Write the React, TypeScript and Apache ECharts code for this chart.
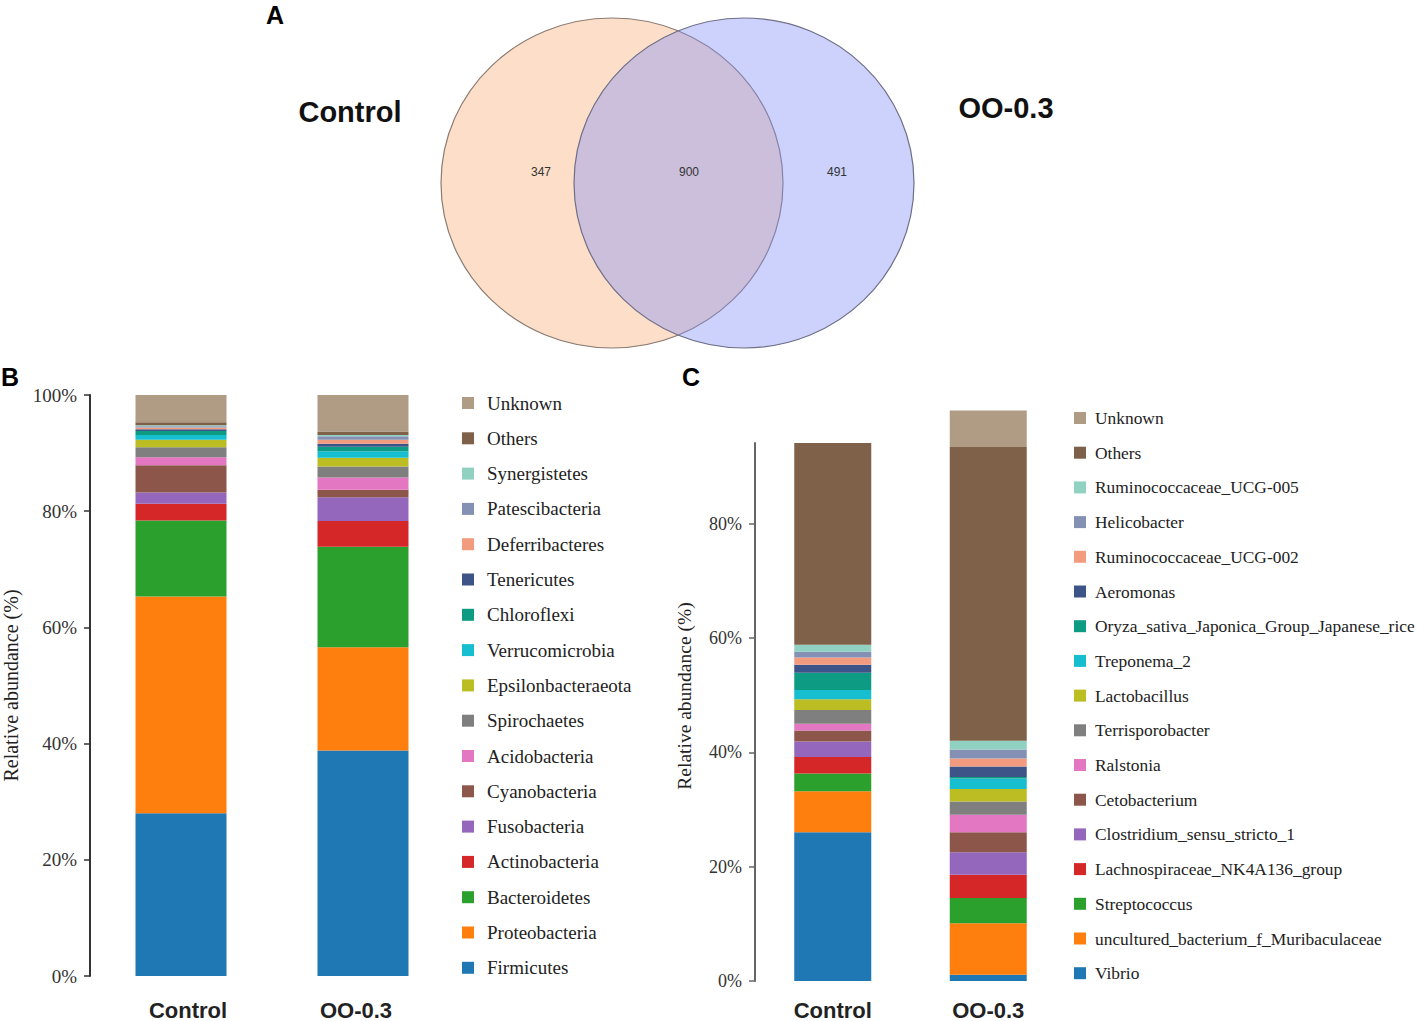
import React, { useEffect, useRef } from 'react';
import * as echarts from 'echarts';

const groups = ['Control', 'OO-0.3'];

const phylaB = ['Firmicutes', 'Proteobacteria', 'Bacteroidetes', 'Actinobacteria', 'Fusobacteria', 'Cyanobacteria', 'Acidobacteria', 'Spirochaetes', 'Epsilonbacteraeota', 'Verrucomicrobia', 'Chloroflexi', 'Tenericutes', 'Deferribacteres', 'Patescibacteria', 'Synergistetes', 'Others', 'Unknown'];
const controlB = [28.0, 37.3, 13.1, 2.9, 1.9, 4.7, 1.4, 1.7, 1.3, 0.8, 0.7, 0.3, 0.3, 0.2, 0.2, 0.5, 4.7];
const oo03B = [38.8, 17.8, 17.3, 4.4, 4.1, 1.3, 2.1, 1.9, 1.5, 1.1, 0.8, 0.5, 0.7, 0.6, 0.2, 0.6, 6.3];

const generaC = ['Vibrio', 'uncultured_bacterium_f_Muribaculaceae', 'Streptococcus', 'Lachnospiraceae_NK4A136_group', 'Clostridium_sensu_stricto_1', 'Cetobacterium', 'Ralstonia', 'Terrisporobacter', 'Lactobacillus', 'Treponema_2', 'Oryza_sativa_Japonica_Group_Japanese_rice', 'Aeromonas', 'Ruminococcaceae_UCG-002', 'Helicobacter', 'Ruminococcaceae_UCG-005', 'Others', 'Unknown'];
const controlC = [26.0, 7.2, 3.1, 2.9, 2.7, 1.9, 1.2, 2.4, 1.9, 1.6, 3.0, 1.4, 1.3, 1.0, 1.2, 35.3, 0];
const oo03C = [1.1, 9.0, 4.4, 4.1, 3.9, 3.5, 3.1, 2.3, 2.2, 1.8, 0.3, 1.8, 1.4, 1.6, 1.5, 51.4, 6.4];

const palette = ['#1f77b4', '#ff7f0e', '#2ca02c', '#d62728', '#9467bd', '#8c564b', '#e377c2', '#7f7f7f', '#bcbd22', '#17becf', '#0e9b83', '#3c5488', '#f39b7f', '#8491b4', '#91d1c2', '#7e6148', '#b09c85'];

const bTicks = [0, 20, 40, 60, 80, 100];
const cTicks = [0, 20, 40, 60, 80];

const vennSets = ['Control', 'OO-0.3'];
const vennCounts = [347, 900, 491];

const SERIF = '"Liberation Serif", "Times New Roman", serif';
const SANS = '"Liberation Sans", Arial, sans-serif';

export default function App() {
  const ref = useRef<HTMLDivElement>(null);
  useEffect(() => {
    document.body.style.margin = '0';
    const chart = echarts.init(ref.current!, null, { renderer: 'svg' });
    const cMax = Math.round(controlC.reduce((a, b) => a + b, 0) * 10) / 10;

    const seriesB = phylaB.map((name, i) => ({
      type: 'bar',
      name,
      stack: 'B',
      xAxisIndex: 0,
      yAxisIndex: 0,
      barWidth: 91,
      data: [controlB[i], oo03B[i]],
      itemStyle: { color: palette[i] },
    }));
    const seriesC = generaC.map((name, i) => ({
      type: 'bar',
      name,
      stack: 'C',
      xAxisIndex: 1,
      yAxisIndex: 1,
      barWidth: 77,
      clip: false,
      data: [controlC[i], oo03C[i]],
      itemStyle: { color: palette[i] },
    }));

    chart.setOption({
      animation: false,
      backgroundColor: '#fff',
      grid: [
        { left: 89, top: 395, width: 365, height: 583 },
        { left: 755, top: 443, width: 311, height: 540 },
      ],
      xAxis: [
        {
          gridIndex: 0, type: 'category', data: groups,
          axisLine: { show: false }, axisTick: { show: false },
          axisLabel: {
            margin: 23, fontSize: 22, fontWeight: 'bold', fontFamily: SANS, color: '#222',
            formatter: (v: string) => (v === groups[0] ? '{a|' + v + '}' : '{b|' + v + '}'),
            rich: {
              a: { fontSize: 22, fontWeight: 'bold', fontFamily: SANS, color: '#222', padding: [0, 0, 0, 14] },
              b: { fontSize: 22, fontWeight: 'bold', fontFamily: SANS, color: '#222', padding: [0, 14, 0, 0] },
            },
          },
        },
        {
          gridIndex: 1, type: 'category', data: groups,
          axisLine: { show: false }, axisTick: { show: false },
          axisLabel: { margin: 18, fontSize: 22, fontWeight: 'bold', fontFamily: SANS, color: '#222' },
        },
      ],
      yAxis: [
        {
          type: 'value',
          gridIndex: 0,
          min: 0,
          max: 100,
          interval: 20,
          splitLine: { show: false },
          axisLine: { show: true, lineStyle: { color: '#333', width: 2 } },
          axisTick: { show: true, length: 6, lineStyle: { color: '#333', width: 1.5 }, customValues: bTicks },
          axisLabel: { customValues: bTicks, formatter: '{value}%', fontFamily: SERIF, fontSize: 19, color: '#333', margin: 13 },
          name: 'Relative abundance (%)',
          nameLocation: 'middle',
          nameGap: 69,
          nameTextStyle: { fontFamily: SERIF, fontSize: 20, color: '#222' },
        },
        {
          type: 'value',
          gridIndex: 1,
          min: 0,
          max: cMax,
          interval: 20,
          splitLine: { show: false },
          axisLine: { show: true, lineStyle: { color: '#666', width: 2 } },
          axisTick: { show: true, length: 6, lineStyle: { color: '#666', width: 1.5 }, customValues: cTicks },
          axisLabel: {
            customValues: cTicks,
            formatter: (v: number) => (v % 20 === 0 ? v + '%' : ''),
            fontFamily: SERIF, fontSize: 18, color: '#333', margin: 13,
          },
          name: 'Relative abundance (%)',
          nameLocation: 'middle',
          nameGap: 61,
          nameTextStyle: { fontFamily: SERIF, fontSize: 19.5, color: '#222', padding: [0, 0, 0, 32] },
        },
      ],
      legend: [
        {
          orient: 'vertical', left: 462, top: 393, icon: 'rect', padding: 0,
          itemWidth: 12, itemHeight: 12, itemGap: 15.3, selectedMode: false,
          data: [...phylaB].reverse(),
          textStyle: { fontFamily: SERIF, fontSize: 19, color: '#222', lineHeight: 20, height: 20, padding: [0, 0, 0, 8] },
        },
        {
          orient: 'vertical', left: 1074, top: 409, icon: 'rect', padding: 0,
          itemWidth: 12, itemHeight: 12, itemGap: 16.7, selectedMode: false,
          data: [...generaC].reverse(),
          textStyle: { fontFamily: SERIF, fontSize: 17.4, color: '#222', lineHeight: 18, height: 18, padding: [0, 0, 0, 4] },
        },
      ],
      graphic: [
        { type: 'ellipse', shape: { cx: 612, cy: 183, rx: 171, ry: 165 }, style: { fill: 'rgba(250,175,120,0.4)', stroke: '#8b7b72', lineWidth: 1.2 } },
        { type: 'ellipse', shape: { cx: 744, cy: 183, rx: 170, ry: 165 }, style: { fill: 'rgba(127,142,247,0.4)', stroke: '#6f6f86', lineWidth: 1.2 } },
        { type: 'text', x: 541, y: 172, style: { text: String(vennCounts[0]), font: '12px ' + SANS, fill: '#333', textAlign: 'center', textVerticalAlign: 'middle' } },
        { type: 'text', x: 689, y: 172, style: { text: String(vennCounts[1]), font: '12px ' + SANS, fill: '#333', textAlign: 'center', textVerticalAlign: 'middle' } },
        { type: 'text', x: 837, y: 172, style: { text: String(vennCounts[2]), font: '12px ' + SANS, fill: '#333', textAlign: 'center', textVerticalAlign: 'middle' } },
        { type: 'text', x: 350, y: 112, style: { text: vennSets[0], font: 'bold 29px ' + SANS, fill: '#111', textAlign: 'center', textVerticalAlign: 'middle' } },
        { type: 'text', x: 1006, y: 108, style: { text: vennSets[1], font: 'bold 29px ' + SANS, fill: '#111', textAlign: 'center', textVerticalAlign: 'middle' } },
        { type: 'text', x: 275, y: 15, style: { text: 'A', font: 'bold 25px ' + SANS, fill: '#000', textAlign: 'center', textVerticalAlign: 'middle' } },
        { type: 'text', x: 10, y: 377, style: { text: 'B', font: 'bold 25px ' + SANS, fill: '#000', textAlign: 'center', textVerticalAlign: 'middle' } },
        { type: 'text', x: 691, y: 377, style: { text: 'C', font: 'bold 25px ' + SANS, fill: '#000', textAlign: 'center', textVerticalAlign: 'middle' } },
      ],
      series: [...seriesB, ...seriesC],
    });
    return () => chart.dispose();
  }, []);
  return <div ref={ref} style={{ width: 1417, height: 1021 }} />;
}
